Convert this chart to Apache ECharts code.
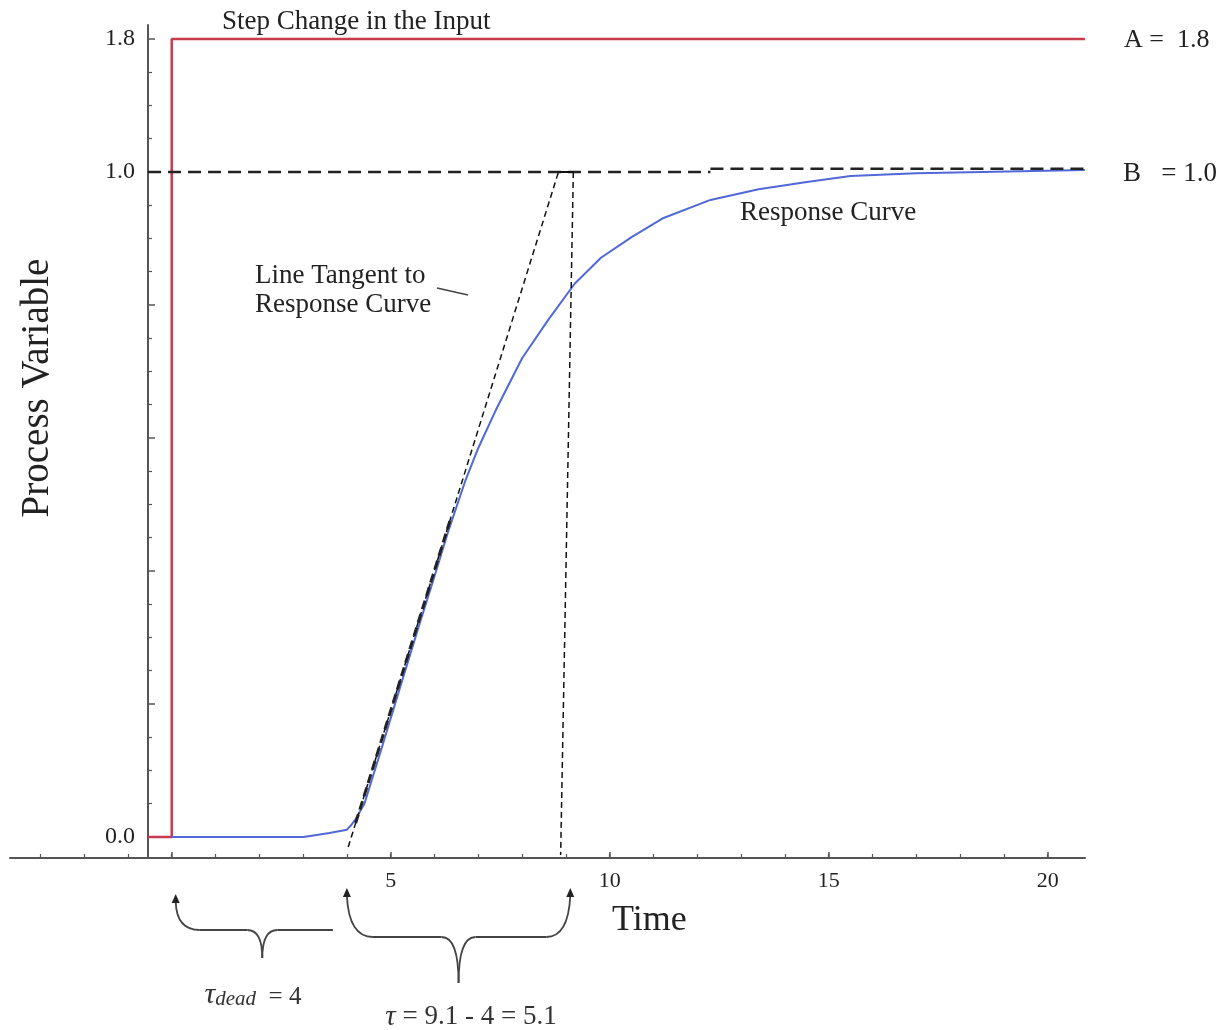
<!DOCTYPE html>
<html><head><meta charset="utf-8">
<script src="https://cdn.jsdelivr.net/npm/echarts@6/dist/echarts.min.js"></script>
<style>html,body{margin:0;padding:0;background:#fff}#c{width:1219px;height:1030px}</style>
</head><body><div id="c"></div>
<script>
// ---- data ----
const respTimes  = [0, 1, 2, 3, 3.2, 3.6, 4.0, 4.1, 4.2, 4.4, 4.8, 5.2, 5.6, 6.0, 6.3, 6.7, 7.0, 7.4, 8.0, 8.6, 9.2, 9.8, 10.5, 11.2, 12.3, 13.4, 14.5, 15.5, 17.0, 18.5, 20.85];
const respValues = [0, 0, 0, 0, 0.002, 0.006, 0.011, 0.018, 0.027, 0.05, 0.135, 0.222, 0.308, 0.392, 0.457, 0.535, 0.585, 0.642, 0.72, 0.778, 0.832, 0.871, 0.902, 0.93, 0.958, 0.974, 0.985, 0.994, 0.998, 1.0, 1.003];
const stepTimes  = [-0.54, 0, 0, 20.85];
const stepValues = [0, 0, 1.8, 1.8];
const levelBTimesA  = [-0.54, 12.3];
const levelBValuesA = [1.0, 1.0];
const levelBTimesB  = [12.3, 20.85];
const levelBValuesB = [1.005, 1.005];
const tangentTimes  = [4.03, 8.83];
const tangentValues = [-0.015, 1.0];
const tangentBoldTimes  = [4.2, 6.35];
const tangentBoldValues = [0.021, 0.475];
const tauLineTimes  = [9.17, 8.88];
const tauLineValues = [1.0, -0.027];
const joinTimes  = [8.83, 9.17];
const joinValues = [1.0, 1.0];
const tauDead = 4;
const tauEnd = 9.1;
// ---- tick labels ----
const xMinorTicks = [-3,-2,-1,0,1,2,3,4,5,6,7,8,9,10,11,12,13,14,15,16,17,18,19,20];
const xMajorTicks = [0,5,10,15,20];
const xLabels = [5,10,15,20];
const yMajorTicks = [0,0.2,0.4,0.6,0.8,1.0,1.2];
const yMinorTicks = [0.05,0.1,0.15,0.25,0.3,0.35,0.45,0.5,0.55,0.65,0.7,0.75,0.85,0.9,0.95,1.05,1.1,1.15];
const yLabels = [0, 1.0];
const inputLabels = [1.8];

const zip = (a, b) => a.map((v, i) => [v, b[i]]);
const SERIF = 'Liberation Serif';
const X_MIN = -3.692, X_MAX = 20.852;
const Y_MIN = -0.03158, Y_MAX = 1.22105;
const K = 1.5; // input scale / response scale

const chart = echarts.init(document.getElementById('c'));
const yCommon = {type:'value', position:'left', offset:-138, splitLine:{show:false}};
const option = {
  animation:false,
  backgroundColor:'#fff',
  grid:{left:10, right:134, top:25, bottom:172, containLabel:false},
  xAxis:[
    {type:'value', min:X_MIN, max:X_MAX, position:'bottom', splitLine:{show:false},
     axisLine:{onZero:false, lineStyle:{color:'#555', width:2}},
     axisTick:{inside:true, length:4, customValues:xMinorTicks, lineStyle:{color:'#555', width:1.2}},
     axisLabel:{customValues:xLabels, margin:12, fontFamily:SERIF, fontSize:22, color:'#222'}},
    {type:'value', min:X_MIN, max:X_MAX, position:'bottom', splitLine:{show:false},
     axisLine:{show:false, onZero:false},
     axisTick:{inside:true, length:6, customValues:xMajorTicks, lineStyle:{color:'#555', width:1.5}},
     axisLabel:{show:false}}
  ],
  yAxis:[
    Object.assign({}, yCommon, {min:Y_MIN, max:Y_MAX,
     axisLine:{show:true, onZero:false, lineStyle:{color:'#555', width:2}},
     axisTick:{inside:true, length:7, customValues:yMajorTicks, lineStyle:{color:'#555', width:1.5}},
     axisLabel:{customValues:yLabels, formatter:v=>Number(v).toFixed(1), margin:13, fontFamily:SERIF, fontSize:24, color:'#222'}}),
    Object.assign({}, yCommon, {min:Y_MIN*K, max:Y_MAX*K,
     axisLine:{show:false, onZero:false}, axisTick:{show:false},
     axisLabel:{customValues:inputLabels, formatter:v=>Number(v).toFixed(1), margin:13, fontFamily:SERIF, fontSize:24, color:'#222'}}),
    Object.assign({}, yCommon, {min:Y_MIN, max:Y_MAX,
     axisLine:{show:false, onZero:false},
     axisTick:{inside:true, length:4, customValues:yMinorTicks, lineStyle:{color:'#555', width:1.2}},
     axisLabel:{show:false}})
  ],
  series:[
    {type:'line', yAxisIndex:1, data:zip(stepTimes, stepValues), showSymbol:false, z:2,
     lineStyle:{color:'#c83a4e', width:2.5}},
    {type:'line', data:zip(respTimes, respValues), showSymbol:false, z:3,
     lineStyle:{color:'#5068d8', width:2}},
    {type:'line', data:zip(levelBTimesA, levelBValuesA), showSymbol:false, z:4,
     lineStyle:{color:'#222', width:2.5, type:[13,7]}},
    {type:'line', data:zip(levelBTimesB, levelBValuesB), showSymbol:false, z:4,
     lineStyle:{color:'#222', width:2.5, type:[13,7]}},
    {type:'line', data:zip(tangentTimes, tangentValues), showSymbol:false, z:5,
     lineStyle:{color:'#111', width:1.5, type:[6,4]}},
    {type:'line', data:zip(tangentBoldTimes, tangentBoldValues), showSymbol:false, z:5,
     lineStyle:{color:'#222', width:3, type:[9,5]}},
    {type:'line', data:zip(tauLineTimes, tauLineValues), showSymbol:false, z:5,
     lineStyle:{color:'#111', width:1.5, type:[6,4]}},
    {type:'line', data:zip(joinTimes, joinValues), showSymbol:false, z:5,
     lineStyle:{color:'#111', width:2}}
  ]
};
chart.setOption(option);

const px = t => chart.convertToPixel({xAxisIndex:0}, t);
const axisY = chart.convertToPixel({yAxisIndex:0}, Y_MIN);
const lineCol = '#444';
const bStyle = {stroke:lineCol, lineWidth:1.8, fill:null};

const seg = (x1,y1,x2,y2) => ({type:'line', z:10, shape:{x1,y1,x2,y2}, style:bStyle});
const qc = (x1,y1,cx,cy,x2,y2) => ({type:'bezierCurve', z:10, shape:{x1,y1,x2,y2,cpx1:cx,cpy1:cy}, style:bStyle});
const arrow = (x, y) => ({type:'polygon', z:10, shape:{points:[[x, y],[x-4, y+9],[x+4, y+9]]}, style:{fill:'#222'}});

const x0 = px(0) + 4, x1 = px(tauDead), x2 = px(tauEnd);
// brace 1
const b1tip = axisY + 36, b1h = axisY + 72, b1c = axisY + 100, b1x = px(tauDead/2) + 3;
const brace1 = [
  qc(x0, b1tip+8, x0+1, b1h, x0+24, b1h),
  seg(x0+24, b1h, b1x-15, b1h),
  qc(b1x-15, b1h, b1x, b1h, b1x, b1c),
  qc(b1x, b1c, b1x, b1h, b1x+15, b1h),
  seg(b1x+15, b1h, x1-14, b1h),
  arrow(x0, b1tip)
];
// brace 2
const b2tip = axisY + 30, b2h = axisY + 79, b2c = axisY + 125, b2x = px((tauDead+tauEnd)/2);
const brace2 = [
  qc(x1, b2tip+8, x1+2, b2h, x1+26, b2h),
  seg(x1+26, b2h, b2x-17, b2h),
  qc(b2x-17, b2h, b2x, b2h, b2x, b2c),
  qc(b2x, b2c, b2x, b2h, b2x+17, b2h),
  seg(b2x+17, b2h, x2-24, b2h),
  qc(x2-24, b2h, x2-2, b2h, x2, b2tip+8),
  arrow(x1, b2tip), arrow(x2, b2tip)
];

const txt = (text, x, y, size) => ({type:'text', z:10, style:{text, x, y, font:`${size}px "${SERIF}"`, fill:'#222', textVerticalAlign:'middle'}});

chart.setOption({graphic:[
  txt('Step Change in the Input', 222, 22, 27),
  txt('A =  1.8', 1124, 40, 26),
  txt('B   = 1.0', 1123, 174, 27),
  txt('Response Curve', 740, 213, 27),
  txt('Line Tangent to', 255, 276, 27),
  txt('Response Curve', 255, 305, 27),
  {type:'line', z:10, shape:{x1:437, y1:288, x2:468, y2:295}, style:{stroke:'#444', lineWidth:1.5}},
  {type:'text', z:10, rotation:Math.PI/2, x:38, y:388, style:{text:'Process Variable', x:0, y:0, font:`39px "${SERIF}"`, fill:'#222', textAlign:'center', textVerticalAlign:'middle'}},
  txt('Time', 612, 921, 36),
  ...brace1, ...brace2,
  {type:'text', z:10, style:{x:253, y:994, textAlign:'center', textVerticalAlign:'middle',
    text:'{t|τ}{s|dead}{n|  = 4}', rich:{
      t:{fontFamily:SERIF, fontSize:30, fontStyle:'italic', fill:'#333', verticalAlign:'bottom', lineHeight:32},
      s:{fontFamily:SERIF, fontSize:21, fontStyle:'italic', fill:'#333', verticalAlign:'bottom', lineHeight:24},
      n:{fontFamily:SERIF, fontSize:25, fill:'#333', verticalAlign:'bottom', lineHeight:30}}}},
  {type:'text', z:10, style:{x:471, y:1017, textAlign:'center', textVerticalAlign:'middle',
    text:'{t|τ}{n| = 9.1 - 4 = 5.1}', rich:{
      t:{fontFamily:SERIF, fontSize:29, fontStyle:'italic', fill:'#333'},
      n:{fontFamily:SERIF, fontSize:27, fill:'#333'}}}}
]});
</script></body></html>
